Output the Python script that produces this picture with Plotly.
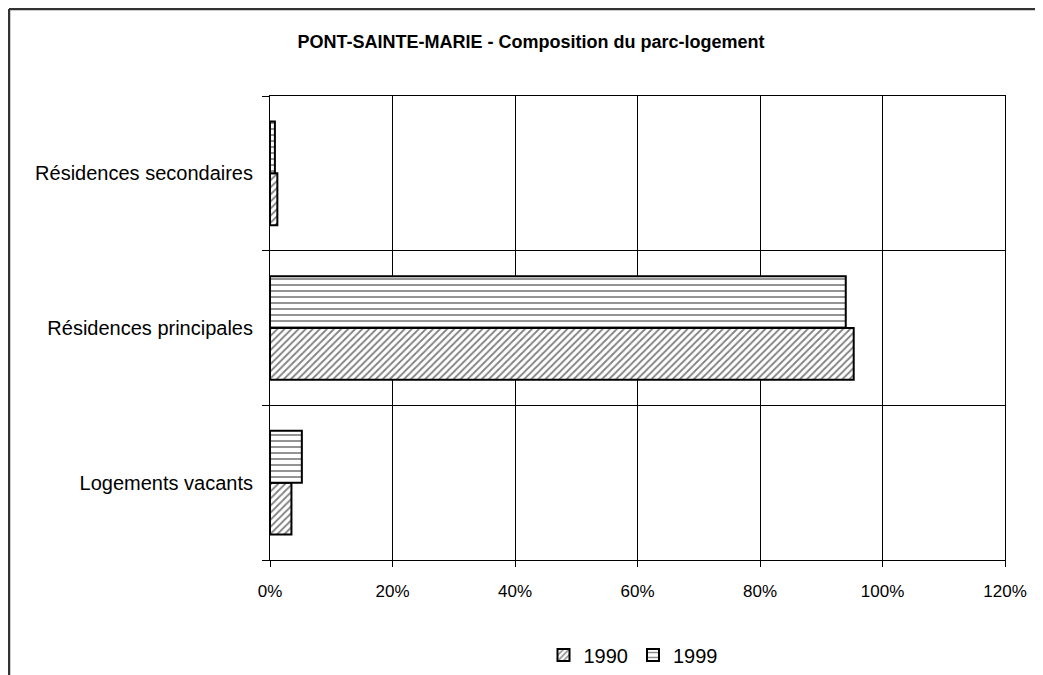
import plotly.graph_objects as go

categories = ["Logements vacants", "Résidences principales", "Résidences secondaires"]
series_names = ["1990", "1999"]
values_1990 = [3.5, 95.3, 1.2]
values_1999 = [5.2, 94.0, 0.8]
x_ticks = [0, 20, 40, 60, 80, 100, 120]
title_text = "PONT-SAINTE-MARIE - Composition du parc-logement"

FONT = "Liberation Sans Narrow, Liberation Sans, Arial, sans-serif"

fig = go.Figure()
fig.add_trace(go.Bar(
    y=categories, x=values_1990, name=series_names[0], orientation="h",
    marker=dict(color="white", line=dict(color="black", width=2),
                pattern=dict(shape="/", fgcolor="black", bgcolor="white", size=5, solidity=0.35)),
))
fig.add_trace(go.Bar(
    y=categories, x=values_1999, name=series_names[1], orientation="h",
    marker=dict(color="white", line=dict(color="black", width=2),
                pattern=dict(shape="-", fgcolor="black", bgcolor="white", size=6, solidity=0.28)),
))

# page body has an 8px margin: figure coords = screen coords - 8
L, T = 262, 88
W, H = 1043, 675
R = W - 997
B = H - 552
pw, ph = W - L - R, H - T - B

def px_x(p):
    return (p - L) / pw

def px_y(p):
    return (H - B - p) / ph

fig.update_layout(
    width=W, height=H,
    margin=dict(l=L, r=R, t=T, b=B, autoexpand=False),
    paper_bgcolor="white", plot_bgcolor="white",
    barmode="group", bargap=0.33, bargroupgap=0,
    font=dict(family=FONT, color="black"),
    title=dict(text="<b>" + title_text + "</b>", x=523 / W, y=1 - 34 / H,
               xanchor="center", yanchor="middle",
               font=dict(family=FONT, size=18, color="black")),
    showlegend=True,
    legend=dict(orientation="h", x=px_x(625), y=px_y(647), xanchor="center", yanchor="middle",
                font=dict(family=FONT, size=20), itemwidth=30, traceorder="normal"),
    xaxis=dict(range=[0, 120], tickvals=x_ticks, ticktext=[f"{v}%" for v in x_ticks],
               showgrid=True, gridcolor="black", gridwidth=1,
               showline=True, linecolor="black", linewidth=1, mirror=True,
               ticks="outside", ticklen=6, tickcolor="black",
               tickfont=dict(family=FONT, size=17), ticklabelstandoff=10,
               zeroline=False, fixedrange=True, automargin=False),
    yaxis=dict(type="category", categoryorder="array", categoryarray=categories,
               tickson="boundaries", showgrid=True, gridcolor="black", gridwidth=1,
               showline=True, linecolor="black", linewidth=1, mirror=True,
               ticks="outside", ticklen=7, tickcolor="black",
               tickfont=dict(family=FONT, size=20), ticklabelstandoff=12,
               zeroline=False, fixedrange=True, automargin=False),
    shapes=[
        dict(type="line", xref="paper", yref="paper", x0=px_x(1), x1=px_x(1),
             y0=px_y(1), y1=px_y(700), line=dict(color="#333333", width=2.5)),
        dict(type="line", xref="paper", yref="paper", x0=px_x(1), x1=px_x(1100),
             y0=px_y(1), y1=px_y(1), line=dict(color="#333333", width=2.5)),
    ],
)

fig.write_html("out.html")
